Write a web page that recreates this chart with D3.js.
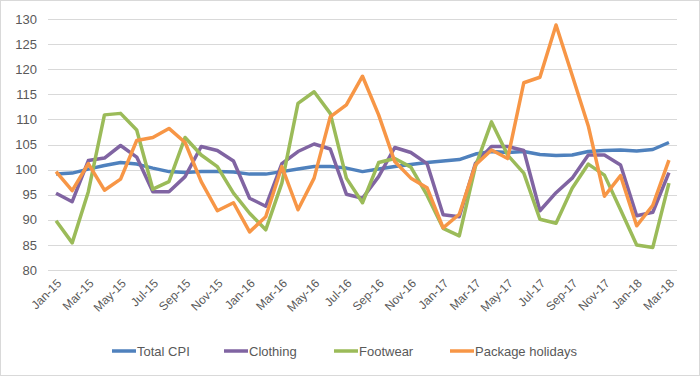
<!DOCTYPE html>
<html>
<head>
<meta charset="utf-8">
<script src="https://cdn.jsdelivr.net/npm/d3@7"></script>
<style>
  body { margin: 0; background: #fff; }
  svg { display: block; font-family: "Liberation Sans", Arial, sans-serif; }
</style>
</head>
<body>
<script>
/* ------------------------------- chart data ------------------------------- */
const months = ["Jan-15","Feb-15","Mar-15","Apr-15","May-15","Jun-15","Jul-15","Aug-15","Sep-15","Oct-15","Nov-15","Dec-15",
  "Jan-16","Feb-16","Mar-16","Apr-16","May-16","Jun-16","Jul-16","Aug-16","Sep-16","Oct-16","Nov-16","Dec-16",
  "Jan-17","Feb-17","Mar-17","Apr-17","May-17","Jun-17","Jul-17","Aug-17","Sep-17","Oct-17","Nov-17","Dec-17",
  "Jan-18","Feb-18","Mar-18"];

const totalCPI = [99.1,99.3,100.1,100.8,101.4,101.1,100.3,99.6,99.4,99.6,99.6,99.5,
  99.1,99.1,99.6,100.1,100.6,100.6,100.3,99.6,100.1,100.6,101.0,101.4,
  101.7,102.0,103.1,103.6,103.4,103.6,103.0,102.8,102.9,103.6,103.8,103.9,
  103.7,104.0,105.4];

const clothing = [95.3,93.6,101.8,102.3,104.8,102.5,95.6,95.6,98.6,104.6,103.8,101.7,
  94.3,92.7,101.2,103.6,105.1,104.1,95.1,94.3,98.6,104.4,103.4,101.2,
  91.0,90.6,101.2,104.6,104.6,103.8,91.8,95.4,98.3,102.9,102.9,100.9,
  90.8,91.5,99.4];

const footwear = [89.8,85.4,95.6,110.9,111.2,107.9,96.1,97.6,106.4,102.9,100.6,95.3,
  91.3,88.0,97.3,113.2,115.5,111.2,98.3,93.4,101.4,102.2,100.5,94.9,
  88.3,86.8,100.6,109.5,102.9,99.3,90.1,89.3,96.3,101.1,98.9,92.0,
  85.0,84.5,97.3];

const packageHolidays = [99.6,95.8,101.2,95.9,98.1,105.8,106.4,108.2,105.4,97.6,91.8,93.4,
  87.6,90.6,100.6,92.0,98.3,110.5,112.9,118.6,110.9,101.6,98.3,96.4,
  88.4,91.1,100.9,103.9,102.2,117.3,118.4,128.8,118.8,108.7,94.7,98.8,
  88.8,92.9,101.9];

const yTicks = [80,85,90,95,100,105,110,115,120,125,130];

const series = [
  { name: "Total CPI", values: totalCPI, color: "#4F81BD" },
  { name: "Clothing", values: clothing, color: "#8064A2" },
  { name: "Footwear", values: footwear, color: "#9BBB59" },
  { name: "Package holidays", values: packageHolidays, color: "#F79646" }
];

/* ------------------------------ document size ----------------------------- */
const width = 700, height = 376;
const margin = { top: 19, right: 23, bottom: 106, left: 48 };

const svg = d3.select("body").append("svg")
    .attr("width", width)
    .attr("height", height);

// outer chart border
svg.append("rect")
    .attr("x", 0.5).attr("y", 0.5)
    .attr("width", width - 1).attr("height", height - 1)
    .attr("fill", "#fff")
    .attr("stroke", "#d9d9d9");

const x = d3.scaleBand()
    .domain(months)
    .range([margin.left, width - margin.right]);

const y = d3.scaleLinear()
    .domain([80, 130])
    .range([height - margin.bottom, margin.top]);

const cx = d => x(d) + x.bandwidth() / 2;

/* -------------------------------- gridlines ------------------------------- */
svg.append("g")
    .selectAll("line")
    .data(yTicks)
    .join("line")
    .attr("x1", margin.left)
    .attr("x2", width - margin.right)
    .attr("y1", d => Math.round(y(d)) + 0.5)
    .attr("y2", d => Math.round(y(d)) + 0.5)
    .attr("stroke", "#d9d9d9")
    .attr("stroke-width", 1);

/* ---------------------------------- axes ---------------------------------- */
const yAxis = svg.append("g")
    .attr("transform", "translate(" + (margin.left - 11) + ",0)")
    .call(d3.axisLeft(y).tickValues(yTicks).tickSize(0).tickPadding(0));
yAxis.select(".domain").remove();
yAxis.selectAll("text")
    .attr("fill", "#595959")
    .style("font-size", "13px");

const xAxis = svg.append("g")
    .attr("transform", "translate(0," + (height - margin.bottom) + ")")
    .call(d3.axisBottom(x).tickValues(months.filter((d, i) => i % 2 == 0)).tickSize(0));
xAxis.select(".domain").remove();
xAxis.selectAll("text")
    .attr("fill", "#595959")
    .style("font-size", "12px")
    .style("text-anchor", "end")
    .attr("dx", "0")
    .attr("dy", "0")
    .attr("transform", "translate(4,12) rotate(-45)");

/* ---------------------------------- lines --------------------------------- */
const line = d3.line()
    .x((d, i) => cx(months[i]))
    .y(d => y(d));

svg.append("g")
    .selectAll("path")
    .data(series)
    .join("path")
    .attr("d", d => line(d.values))
    .attr("fill", "none")
    .attr("stroke", d => d.color)
    .attr("stroke-width", 3.5)
    .attr("stroke-linejoin", "round");

/* --------------------------------- legend --------------------------------- */
const legendX = [112, 224, 334, 450];
const legend = svg.append("g")
    .selectAll("g")
    .data(series)
    .join("g")
    .attr("transform", (d, i) => "translate(" + legendX[i] + ",351)");

legend.append("line")
    .attr("x1", 0).attr("x2", 24)
    .attr("stroke", d => d.color)
    .attr("stroke-width", 3.5);

legend.append("text")
    .attr("x", 25)
    .attr("dy", "0.35em")
    .attr("fill", "#595959")
    .style("font-size", "13px")
    .text(d => d.name);
</script>
</body>
</html>
